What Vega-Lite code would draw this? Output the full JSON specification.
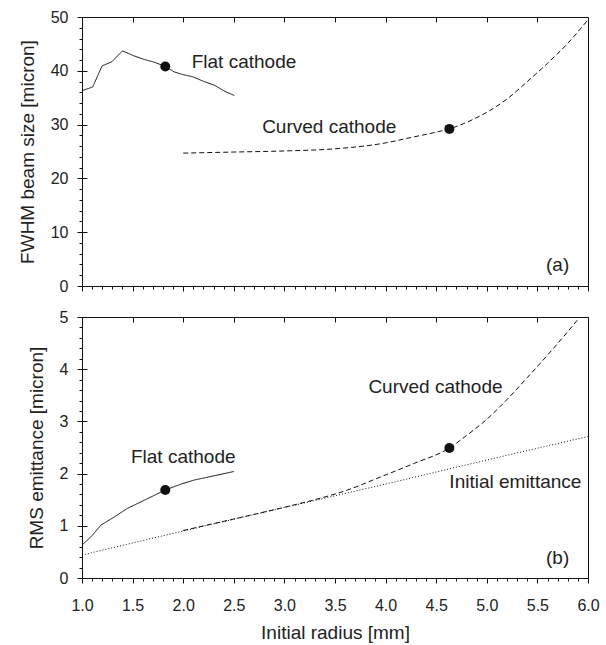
{
  "$schema": "https://vega.github.io/schema/vega-lite/v6.json",
  "background": "white",
  "padding": {"left": 17, "top": 8, "right": 0, "bottom": 0},
  "bounds": "flush",
  "spacing": 31,
  "config": {
    "font": "Liberation Sans",
    "view": {"stroke": "#111", "strokeWidth": 1},
    "axis": {
      "domainColor": "#111",
      "tickColor": "#111",
      "gridColor": "#111",
      "labelColor": "#222",
      "titleColor": "#222",
      "labelFont": "Liberation Sans",
      "titleFont": "Liberation Sans",
      "labelFontSize": 16,
      "titleFontSize": 19,
      "titleFontWeight": "normal",
      "labelOverlap": false,
      "labelFlush": false
    },
    "text": {"font": "Liberation Sans", "fontSize": 19, "color": "#222"}
  },
  "datasets": {
    "top": [
      {"series": "flat", "x": 1.0, "y": 36.3},
      {"series": "flat", "x": 1.106, "y": 37.0},
      {"series": "flat", "x": 1.198, "y": 40.9},
      {"series": "flat", "x": 1.296, "y": 41.7},
      {"series": "flat", "x": 1.40, "y": 43.7},
      {"series": "flat", "x": 1.517, "y": 42.75},
      {"series": "flat", "x": 1.616, "y": 42.1},
      {"series": "flat", "x": 1.715, "y": 41.6},
      {"series": "flat", "x": 1.823, "y": 40.8},
      {"series": "flat", "x": 1.912, "y": 39.8},
      {"series": "flat", "x": 1.995, "y": 39.3},
      {"series": "flat", "x": 2.094, "y": 38.9},
      {"series": "flat", "x": 2.193, "y": 38.1},
      {"series": "flat", "x": 2.31, "y": 37.3},
      {"series": "flat", "x": 2.41, "y": 36.2},
      {"series": "flat", "x": 2.505, "y": 35.4},
      {"series": "curved", "x": 2.0, "y": 24.7},
      {"series": "curved", "x": 2.5, "y": 24.9},
      {"series": "curved", "x": 3.0, "y": 25.1},
      {"series": "curved", "x": 3.5, "y": 25.5},
      {"series": "curved", "x": 4.0, "y": 26.6},
      {"series": "curved", "x": 4.25, "y": 27.6},
      {"series": "curved", "x": 4.5, "y": 28.6},
      {"series": "curved", "x": 4.63, "y": 29.2},
      {"series": "curved", "x": 4.81, "y": 30.5},
      {"series": "curved", "x": 5.01, "y": 32.4},
      {"series": "curved", "x": 5.21, "y": 34.9},
      {"series": "curved", "x": 5.40, "y": 38.0},
      {"series": "curved", "x": 5.60, "y": 41.4},
      {"series": "curved", "x": 5.80, "y": 45.1},
      {"series": "curved", "x": 6.0, "y": 49.5}
    ],
    "topDots": [
      {"x": 1.823, "y": 40.8},
      {"x": 4.63, "y": 29.2}
    ],
    "topLabels": [
      {"x": 2.084, "y": 41.6, "label": "Flat cathode"},
      {"x": 2.78, "y": 29.55, "label": "Curved cathode"},
      {"x": 5.585, "y": 3.9, "label": "(a)"}
    ],
    "bottom": [
      {"series": "flat", "x": 1.0, "y": 0.63},
      {"series": "flat", "x": 1.089, "y": 0.79},
      {"series": "flat", "x": 1.188, "y": 1.015},
      {"series": "flat", "x": 1.32, "y": 1.17},
      {"series": "flat", "x": 1.45, "y": 1.335},
      {"series": "flat", "x": 1.616, "y": 1.49},
      {"series": "flat", "x": 1.823, "y": 1.686},
      {"series": "flat", "x": 1.98, "y": 1.80},
      {"series": "flat", "x": 2.11, "y": 1.877},
      {"series": "flat", "x": 2.31, "y": 1.96},
      {"series": "flat", "x": 2.5, "y": 2.04},
      {"series": "initial", "x": 1.0, "y": 0.44},
      {"series": "initial", "x": 2.0, "y": 0.9},
      {"series": "initial", "x": 3.0, "y": 1.35},
      {"series": "initial", "x": 4.0, "y": 1.8},
      {"series": "initial", "x": 5.0, "y": 2.26},
      {"series": "initial", "x": 6.0, "y": 2.71},
      {"series": "curved", "x": 2.0, "y": 0.91},
      {"series": "curved", "x": 2.5, "y": 1.13},
      {"series": "curved", "x": 2.966, "y": 1.34},
      {"series": "curved", "x": 3.3, "y": 1.5},
      {"series": "curved", "x": 3.625, "y": 1.686},
      {"series": "curved", "x": 3.955, "y": 1.94},
      {"series": "curved", "x": 4.284, "y": 2.197},
      {"series": "curved", "x": 4.63, "y": 2.49},
      {"series": "curved", "x": 4.80, "y": 2.73},
      {"series": "curved", "x": 5.00, "y": 3.04},
      {"series": "curved", "x": 5.20, "y": 3.42},
      {"series": "curved", "x": 5.40, "y": 3.84},
      {"series": "curved", "x": 5.60, "y": 4.27},
      {"series": "curved", "x": 5.80, "y": 4.72},
      {"series": "curved", "x": 5.92, "y": 5.0}
    ],
    "bottomDots": [
      {"x": 1.823, "y": 1.686},
      {"x": 4.63, "y": 2.49}
    ],
    "bottomLabels": [
      {"x": 1.484, "y": 2.32, "label": "Flat cathode"},
      {"x": 3.83, "y": 3.65, "label": "Curved cathode"},
      {"x": 4.63, "y": 1.845, "label": "Initial emittance"},
      {"x": 5.585, "y": 0.377, "label": "(b)"}
    ]
  },
  "vconcat": [
    {
      "width": 506,
      "height": 269,
      "layer": [
        {
          "data": {"name": "top"},
          "transform": [{"filter": "datum.series === 'flat'"}],
          "mark": {"type": "line", "strokeWidth": 1, "color": "#111"},
          "encoding": {
            "x": {
              "field": "x", "type": "quantitative",
              "scale": {"domain": [1, 6], "nice": false, "zero": false},
              "axis": {
                "title": null,
                "tickCount": 200,
                "values": [1.0,1.1,1.2,1.3,1.4,1.5,1.6,1.7,1.8,1.9,2.0,2.1,2.2,2.3,2.4,2.5,2.6,2.7,2.8,2.9,3.0,3.1,3.2,3.3,3.4,3.5,3.6,3.7,3.8,3.9,4.0,4.1,4.2,4.3,4.4,4.5,4.6,4.7,4.8,4.9,5.0,5.1,5.2,5.3,5.4,5.5,5.6,5.7,5.8,5.9,6.0],
                "labels": false,
                "labelOverlap": false,
                "grid": true,
                "gridDash": [5, 2000],
                "gridOpacity": {"condition": {"test": "abs(datum.value*2 - round(datum.value*2)) < 0.001", "value": 1}, "value": 0},
                "tickSize": {"condition": {"test": "abs(datum.value*2 - round(datum.value*2)) < 0.001", "value": 5}, "value": 3}
              }
            },
            "y": {
              "field": "y", "type": "quantitative",
              "scale": {"domain": [0, 50], "nice": false},
              "axis": {
                "title": "FWHM beam size [micron]",
                "tickCount": 200,
                "values": [0,2,4,6,8,10,12,14,16,18,20,22,24,26,28,30,32,34,36,38,40,42,44,46,48,50],
                "labelExpr": "datum.value % 10 === 0 ? format(datum.value, 'd') : ''",
                "labelOverlap": false,
                "labelPadding": 9,
                "titlePadding": 13,
                "grid": true,
                "gridDash": [5, 2000],
                "gridOpacity": {"condition": {"test": "datum.value % 10 === 0", "value": 1}, "value": 0},
                "tickSize": {"condition": {"test": "datum.value % 10 === 0", "value": 5}, "value": 3}
              }
            },
            "detail": {"field": "series"},
            "strokeDash": {
              "field": "series", "type": "nominal",
              "scale": {"domain": ["flat", "curved", "initial"], "range": [[1, 0], [5, 3], [1, 2]]},
              "legend": null
            }
          }
        },
        {
          "data": {"name": "top"},
          "transform": [{"filter": "datum.series !== 'flat'"}],
          "mark": {"type": "line", "strokeWidth": 1, "color": "#111", "interpolate": "monotone"},
          "encoding": {
            "x": {"field": "x", "type": "quantitative"},
            "y": {"field": "y", "type": "quantitative"},
            "detail": {"field": "series"},
            "strokeDash": {
              "field": "series", "type": "nominal",
              "scale": {"domain": ["flat", "curved", "initial"], "range": [[1, 0], [5, 3], [1, 2]]},
              "legend": null
            }
          }
        },
        {
          "data": {"name": "topDots"},
          "mark": {"type": "circle", "size": 100, "opacity": 1, "color": "#111"},
          "encoding": {
            "x": {"field": "x", "type": "quantitative"},
            "y": {"field": "y", "type": "quantitative"}
          }
        },
        {
          "data": {"name": "topLabels"},
          "mark": {"type": "text", "align": "left", "baseline": "middle"},
          "encoding": {
            "x": {"field": "x", "type": "quantitative"},
            "y": {"field": "y", "type": "quantitative"},
            "text": {"field": "label"}
          }
        }
      ]
    },
    {
      "width": 506,
      "height": 261,
      "layer": [
        {
          "data": {"name": "bottom"},
          "transform": [{"filter": "datum.series === 'flat'"}],
          "mark": {"type": "line", "strokeWidth": 1, "color": "#111"},
          "encoding": {
            "x": {
              "field": "x", "type": "quantitative",
              "scale": {"domain": [1, 6], "nice": false, "zero": false},
              "axis": {
                "title": "Initial radius [mm]",
                "titlePadding": 10,
                "tickCount": 200,
                "values": [1.0,1.1,1.2,1.3,1.4,1.5,1.6,1.7,1.8,1.9,2.0,2.1,2.2,2.3,2.4,2.5,2.6,2.7,2.8,2.9,3.0,3.1,3.2,3.3,3.4,3.5,3.6,3.7,3.8,3.9,4.0,4.1,4.2,4.3,4.4,4.5,4.6,4.7,4.8,4.9,5.0,5.1,5.2,5.3,5.4,5.5,5.6,5.7,5.8,5.9,6.0],
                "labelExpr": "abs(datum.value*2 - round(datum.value*2)) < 0.001 ? format(datum.value, '.1f') : ''",
                "labelOverlap": false,
                "labelPadding": 14,
                "grid": true,
                "gridDash": [5, 2000],
                "gridOpacity": {"condition": {"test": "abs(datum.value*2 - round(datum.value*2)) < 0.001", "value": 1}, "value": 0},
                "tickSize": {"condition": {"test": "abs(datum.value*2 - round(datum.value*2)) < 0.001", "value": 5}, "value": 3}
              }
            },
            "y": {
              "field": "y", "type": "quantitative",
              "scale": {"domain": [0, 5], "nice": false},
              "axis": {
                "title": "RMS emittance [micron]",
                "tickCount": 200,
                "values": [0,0.2,0.4,0.6,0.8,1,1.2,1.4,1.6,1.8,2,2.2,2.4,2.6,2.8,3,3.2,3.4,3.6,3.8,4,4.2,4.4,4.6,4.8,5],
                "labelExpr": "abs(datum.value - round(datum.value)) < 0.001 ? format(datum.value, 'd') : ''",
                "labelOverlap": false,
                "labelPadding": 9,
                "titlePadding": 13,
                "grid": true,
                "gridDash": [5, 2000],
                "gridOpacity": {"condition": {"test": "abs(datum.value - round(datum.value)) < 0.001", "value": 1}, "value": 0},
                "tickSize": {"condition": {"test": "abs(datum.value - round(datum.value)) < 0.001", "value": 5}, "value": 3}
              }
            },
            "detail": {"field": "series"},
            "strokeDash": {
              "field": "series", "type": "nominal",
              "scale": {"domain": ["flat", "curved", "initial"], "range": [[1, 0], [5, 3], [1, 2]]},
              "legend": null
            }
          }
        },
        {
          "data": {"name": "bottom"},
          "transform": [{"filter": "datum.series !== 'flat'"}],
          "mark": {"type": "line", "strokeWidth": 1, "color": "#111", "interpolate": "monotone"},
          "encoding": {
            "x": {"field": "x", "type": "quantitative"},
            "y": {"field": "y", "type": "quantitative"},
            "detail": {"field": "series"},
            "strokeDash": {
              "field": "series", "type": "nominal",
              "scale": {"domain": ["flat", "curved", "initial"], "range": [[1, 0], [5, 3], [1, 2]]},
              "legend": null
            }
          }
        },
        {
          "data": {"name": "bottomDots"},
          "mark": {"type": "circle", "size": 100, "opacity": 1, "color": "#111"},
          "encoding": {
            "x": {"field": "x", "type": "quantitative"},
            "y": {"field": "y", "type": "quantitative"}
          }
        },
        {
          "data": {"name": "bottomLabels"},
          "mark": {"type": "text", "align": "left", "baseline": "middle"},
          "encoding": {
            "x": {"field": "x", "type": "quantitative"},
            "y": {"field": "y", "type": "quantitative"},
            "text": {"field": "label"}
          }
        }
      ]
    }
  ]
}
